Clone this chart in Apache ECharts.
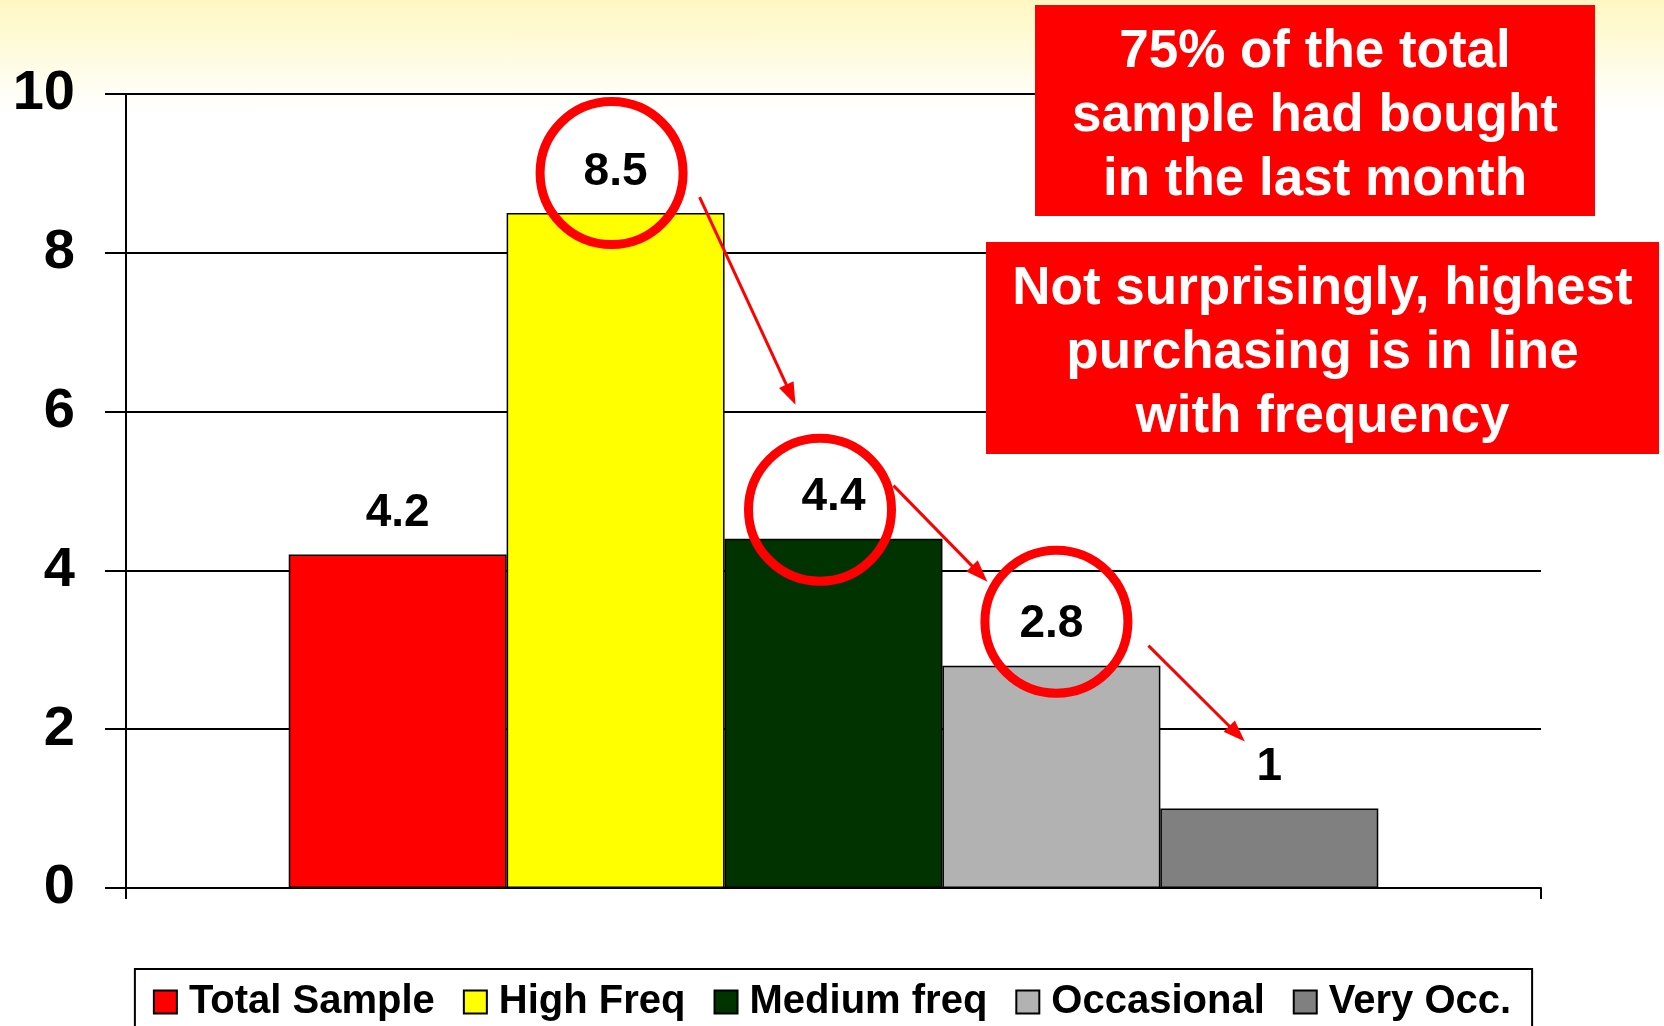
<!DOCTYPE html>
<html>
<head>
<meta charset="utf-8">
<title>Purchasing by frequency segment</title>
<script src="https://cdn.jsdelivr.net/npm/echarts@6/dist/echarts.min.js"></script>
<style>
  html, body { margin: 0; padding: 0; }
  #chart {
    width: 1664px;
    height: 1026px;
    background: linear-gradient(to bottom, #FFF7C2 0px, #FFFAD6 40px, #FFFDEE 80px, #FFFFFF 115px, #FFFFFF 100%);
  }
</style>
</head>
<body>
<div id="chart"></div>
<script>
// ---- data ----
const categories = [''];
const seriesNames = ['Total Sample', 'High Freq', 'Medium freq', 'Occasional', 'Very Occ.'];
const seriesValues = [4.2, 8.5, 4.4, 2.8, 1];
const seriesColors = ['#FF0000', '#FFFF00', '#003300', '#B2B2B2', '#808080'];
const yTickLabels = ['0', '2', '4', '6', '8', '10'];
const noteTopLines = ['75% of the total', 'sample had bought', 'in the last month'];
const noteBottomLines = ['Not surprisingly, highest', 'purchasing is in line', 'with frequency'];

const FONT = '"Liberation Sans", Arial, Helvetica, sans-serif';

const chart = echarts.init(document.getElementById('chart'), null, { renderer: 'canvas' });

const series = seriesNames.map((name, i) => ({
  name: name,
  type: 'bar',
  data: [seriesValues[i]],
  barGap: '0%',
  barCategoryGap: '23%',
  itemStyle: { color: seriesColors[i], borderColor: '#000', borderWidth: 1.5 },
  label: {
    show: true,
    position: 'top',
    distance: 18,
    color: '#000',
    fontFamily: FONT,
    fontWeight: 'bold',
    fontSize: 46,
    formatter: p => String(p.value)
  },
  emphasis: { disabled: true },
  animation: false
}));

chart.setOption({
  backgroundColor: 'transparent',
  animation: false,
  grid: { left: 126, right: 123, top: 94, bottom: 138, containLabel: false },
  legend: {
    data: seriesNames,
    left: 'center',
    top: 969,
    orient: 'horizontal',
    icon: 'rect',
    itemWidth: 23,
    itemHeight: 23,
    itemGap: 28,
    padding: [13, 21, 13, 18],
    backgroundColor: '#FFFFFF',
    borderColor: '#000',
    borderWidth: 2,
    selectedMode: false,
    textStyle: {
      color: '#000',
      fontFamily: FONT,
      fontWeight: 'bold',
      fontSize: 40,
      padding: [0, 0, 0, 7]
    }
  },
  xAxis: {
    type: 'category',
    data: categories,
    boundaryGap: true,
    axisLine: { show: true, lineStyle: { color: '#000', width: 2 } },
    axisTick: { show: true, length: 11, lineStyle: { color: '#000', width: 2 } },
    axisLabel: { show: false },
    splitLine: { show: false }
  },
  yAxis: {
    type: 'value',
    min: 0,
    max: 10,
    interval: 2,
    axisLine: { show: true, lineStyle: { color: '#000', width: 2 } },
    axisTick: { show: true, length: 21, lineStyle: { color: '#000', width: 2 } },
    axisLabel: {
      margin: 51,
      color: '#000',
      fontFamily: FONT,
      fontWeight: 'bold',
      fontSize: 56,
      formatter: v => yTickLabels[Math.round(v / 2)]
    },
    splitLine: { show: true, lineStyle: { color: '#000', width: 2 } }
  },
  series: series
});

// ---- call-outs anchored to the bars ----
function barTopCenter(i) {
  const l = chart.getModel().getSeriesByIndex(i).getData().getItemLayout(0);
  return [l.x + l.width / 2, Math.min(l.y, l.y + l.height)];
}
function offsetFrom(i, off) {
  const p = barTopCenter(i);
  return [p[0] + off[0], p[1] + off[1]];
}

// rings around the labels of the frequency segments
const rings = [
  { bar: 1, off: [-4, -40] },
  { bar: 2, off: [-13.5, -29] },
  { bar: 3, off: [5, -44] }
];
// arrows stepping down from one segment to the next
const arrows = [
  { from: 1, fromOff: [84, -16], to: 2, toOff: [-38, -134] },
  { from: 2, fromOff: [60, -53], to: 3, toOff: [-64, -84] },
  { from: 3, fromOff: [97, -20], to: 4, toOff: [-24.5, -67] }
];

function arrowElements(p0, p1) {
  const dx = p1[0] - p0[0], dy = p1[1] - p0[1];
  const len = Math.hypot(dx, dy);
  const ux = dx / len, uy = dy / len;
  const headLen = 22, headHalf = 8;
  const base = [p1[0] - ux * headLen, p1[1] - uy * headLen];
  const nx = -uy, ny = ux;
  return [
    {
      type: 'line',
      shape: { x1: p0[0], y1: p0[1], x2: base[0] + ux * 2, y2: base[1] + uy * 2 },
      style: { stroke: '#FF0000', lineWidth: 3 },
      z: 100
    },
    {
      type: 'polygon',
      shape: { points: [p1, [base[0] + nx * headHalf, base[1] + ny * headHalf], [base[0] - nx * headHalf, base[1] - ny * headHalf]] },
      style: { fill: '#FF0000' },
      z: 100
    }
  ];
}

function noteBox(x, y, w, h, lines, textDy) {
  return {
    type: 'group',
    z: 120,
    children: [
      { type: 'rect', shape: { x: x, y: y, width: w, height: h }, style: { fill: '#FF0000' } },
      {
        type: 'text',
        x: x + w / 2,
        y: y + h / 2 + textDy,
        style: {
          text: lines.join('\n'),
          fill: '#FFFFFF',
          font: 'bold 53px ' + FONT,
          align: 'center',
          verticalAlign: 'middle',
          lineHeight: 64
        }
      }
    ]
  };
}

const graphics = [];
rings.forEach(r => {
  const c = offsetFrom(r.bar, r.off);
  graphics.push({
    type: 'circle',
    shape: { cx: c[0], cy: c[1], r: 71.5 },
    style: { fill: 'none', stroke: '#FF0000', lineWidth: 9 },
    z: 100
  });
});
arrows.forEach(a => {
  arrowElements(offsetFrom(a.from, a.fromOff), offsetFrom(a.to, a.toOff)).forEach(e => graphics.push(e));
});
graphics.push(noteBox(1035, 5, 560, 211, noteTopLines, 6));
graphics.push(noteBox(986, 242, 673, 212, noteBottomLines, 5));

chart.setOption({ graphic: { elements: graphics } });
</script>
</body>
</html>
